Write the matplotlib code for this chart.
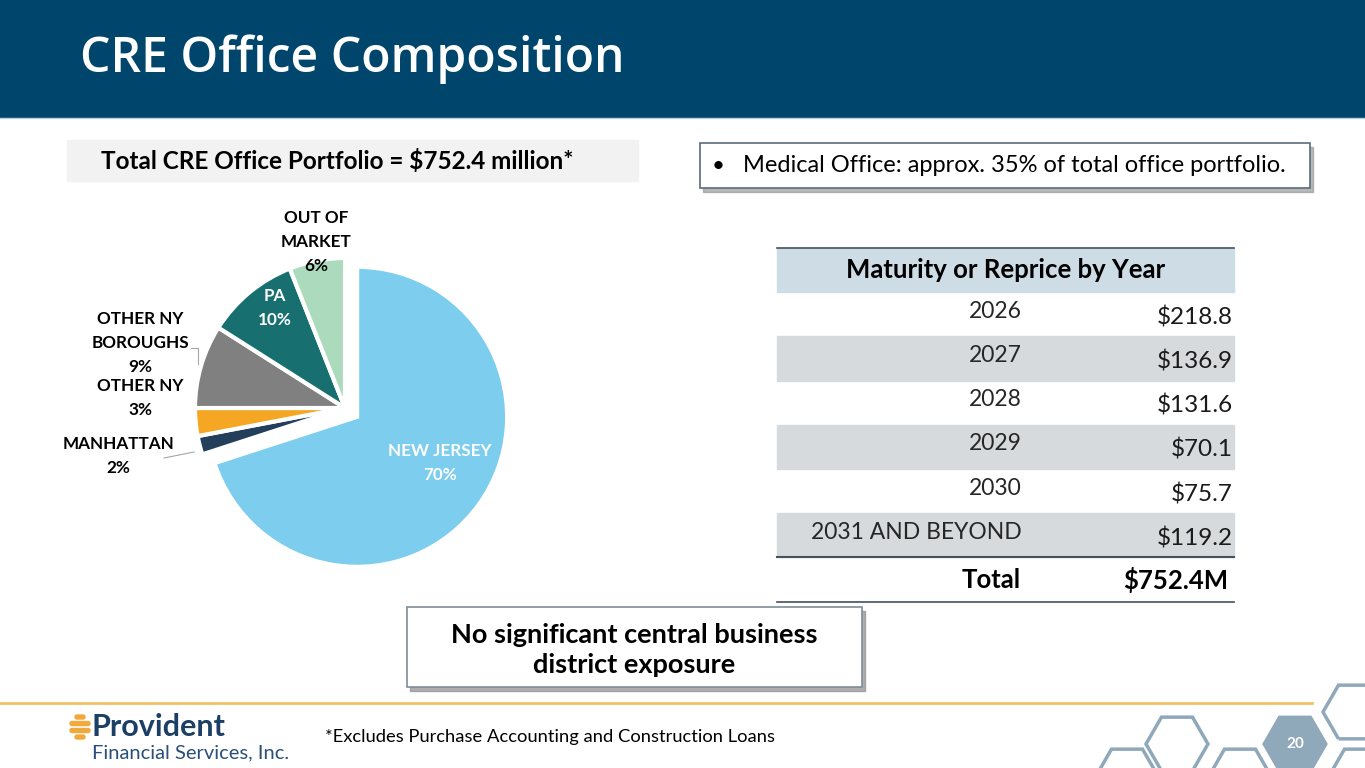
import numpy as np
import matplotlib
matplotlib.use("Agg")
import matplotlib.pyplot as plt
from matplotlib.patches import Rectangle, RegularPolygon, FancyBboxPatch

# ---- data ----
segments = ["NEW JERSEY", "MANHATTAN", "OTHER NY", "OTHER NY\nBOROUGHS", "PA", "OUT OF\nMARKET"]
shares = [70, 2, 3, 9, 10, 6]
seg_colors = ["#7ccdee", "#233f5b", "#f5a623", "#808080", "#17706f", "#acdabd"]

years = ["2026", "2027", "2028", "2029", "2030", "2031 AND BEYOND"]
amounts = [218.8, 136.9, 131.6, 70.1, 75.7, 119.2]
total_amount = 752.4

# label layout (pixel centres) and colours
label_pos = [(440, 463), (118, 456), (140, 398), (140, 343), (275, 308), (316, 242)]
label_col = ["white", "black", "black", "black", "white", "black"]

W, H = 1365, 768
BODY = ["Lato", "DejaVu Sans"]
NAVY = "#00466c"
HEX = "#8fa8ba"

fig = plt.figure(figsize=(W / 100, H / 100), dpi=100)


def pixel_axes():
    a = fig.add_axes([0, 0, 1, 1])
    a.set_xlim(0, W)
    a.set_ylim(H, 0)
    a.axis("off")
    return a


bg = pixel_axes()

# title bar
bg.add_patch(Rectangle((0, 0), W, 117, color=NAVY, zorder=1))
bg.plot([0, W], [117.5, 117.5], color="#b9d3e2", lw=1, zorder=1)
bg.text(80, 59, "CRE Office Composition", color="white", fontsize=34.6,
        fontweight="semibold", family=["Open Sans", "DejaVu Sans"], va="center", ha="left")

# total box
bg.add_patch(Rectangle((67, 140), 571, 41, color="#f2f2f2", zorder=1))
bg.text(337, 161, "Total CRE Office Portfolio = $752.4 million*", fontsize=17.5,
        fontweight="bold", family=BODY, ha="center", va="center")

# medical office box
bg.add_patch(Rectangle((703, 147), 610, 45, color="#9a9a9a", alpha=0.7, zorder=1))
bg.add_patch(Rectangle((700, 143), 610, 45, facecolor="white", edgecolor="#5b6b7a", lw=1.2, zorder=2))
bg.text(712, 166, "\u2022", fontsize=16, family=BODY, va="center", zorder=3)
bg.text(743, 166, "Medical Office: approx. 35% of total office portfolio.", fontsize=17,
        family=BODY, va="center", zorder=3)

# ---- table ----
tx0, tx1 = 777, 1234
head_top, row_h = 248, 44.2
bg.add_patch(Rectangle((tx0, head_top), tx1 - tx0, row_h, color="#cddce5", zorder=1))
bg.plot([tx0, tx1], [head_top, head_top], color="#44525e", lw=1.2, zorder=2)
bg.text((tx0 + tx1) / 2, head_top + row_h / 2, "Maturity or Reprice by Year", fontsize=18.5,
        fontweight="bold", family=BODY, ha="center", va="center", zorder=3)
for i, (yr, amt) in enumerate(zip(years, amounts)):
    top = head_top + row_h * (i + 1)
    if i % 2 == 1:
        bg.add_patch(Rectangle((tx0, top), tx1 - tx0, row_h, color="#d6dadd", zorder=1))
    bg.text(1022, top + row_h / 2 - 3, yr, fontsize=16.5, family=BODY,
            ha="right", va="center", color="#262626", zorder=3)
    bg.text(1233, top + row_h / 2 + 3, f"${amt:.1f}", fontsize=17.5, family=BODY,
            ha="right", va="center", color="#1a1a1a", zorder=3)
line_y = head_top + row_h * (len(years) + 1)
bg.plot([tx0, tx1], [line_y, line_y], color="#44525e", lw=1.5, zorder=2)
bg.text(1021, line_y + row_h / 2, "Total", fontsize=18.5, fontweight="bold", family=BODY,
        ha="right", va="center", zorder=3)
bg.text(1228, line_y + row_h / 2, f"${total_amount:.1f}M", fontsize=18.5, fontweight="bold",
        family=BODY, ha="right", va="center", zorder=3)
bg.plot([tx0, tx1], [line_y + row_h, line_y + row_h], color="#44525e", lw=1.2, zorder=2)

# ---- callout box ----
bg.add_patch(Rectangle((410, 611), 455, 80, color="#8c8c8c", alpha=0.7, zorder=1))
bg.add_patch(Rectangle((407, 607), 455, 80, facecolor="white", edgecolor="#7f8c99", lw=1.2, zorder=2))
bg.text(634, 650, "No significant central business\ndistrict exposure", fontsize=19.5,
        fontweight="bold", family=BODY, ha="center", va="center", linespacing=1.33, zorder=3)

# ---- footer ----
bg.plot([0, 1312], [703, 703], color="#efc163", lw=2, zorder=2)
bg.text(325, 737, "*Excludes Purchase Accounting and Construction Loans", fontsize=13.2,
        family=BODY, va="center")

# logo
for yy, ww in [(717, 10), (723.5, 20), (730.5, 20), (737, 10)]:
    bg.add_patch(FancyBboxPatch((80 - ww / 2, yy - 2), ww, 4, boxstyle="round,pad=0,rounding_size=2",
                                color="#f2a93b", zorder=3))
bg.text(91, 727, "Provident", fontsize=22, fontweight="bold", color="#1c3f66", family=BODY, va="center")
bg.text(92, 753, "Financial Services, Inc.", fontsize=14.5, color="#2a4f78", family=BODY, va="center")

# hexagons
for hx, hy in [(1177, 744), (1354, 712), (1127, 776), (1240, 776), (1360, 776)]:
    bg.add_patch(RegularPolygon((hx, hy), 6, radius=31, orientation=np.pi / 6,
                                facecolor="none", edgecolor=HEX, lw=2.5, zorder=2))
bg.add_patch(RegularPolygon((1295, 744), 6, radius=32, orientation=np.pi / 6,
                            facecolor=HEX, edgecolor=HEX, lw=1, zorder=2))
bg.text(1295, 744, "20", color="white", fontsize=11, fontweight="bold", family=BODY,
        ha="center", va="center", zorder=3)

# ---- pie ----
cx, cy, rpx = 345, 408, 150
span = 1.5
pie_ax = fig.add_axes([(cx - span * rpx) / W, 1 - (cy + span * rpx) / H,
                       2 * span * rpx / W, 2 * span * rpx / H])
explode = [0.1, 0, 0, 0, 0, 0]
pie_ax.pie(shares, colors=seg_colors, startangle=90, counterclock=False, explode=explode,
           radius=1, wedgeprops=dict(edgecolor="white", linewidth=3))
pie_ax.set_xlim(-span, span)
pie_ax.set_ylim(-span, span)
pie_ax.set_aspect("equal")
pie_ax.axis("off")

# labels on top of the pie
top_ax = pixel_axes()
for name, pct, (lx, ly), col in zip(segments, shares, label_pos, label_col):
    top_ax.text(lx, ly, f"{name}\n{pct}%", color=col, fontsize=12.3, fontweight="bold",
                family=BODY, ha="center", va="center", linespacing=1.6)

# leader lines
top_ax.plot([191, 198, 198], [348, 348, 364], color="#a6a6a6", lw=0.8)
top_ax.plot([164, 194], [458, 452], color="#a6a6a6", lw=0.8)

fig.savefig("out.png", dpi=100)
